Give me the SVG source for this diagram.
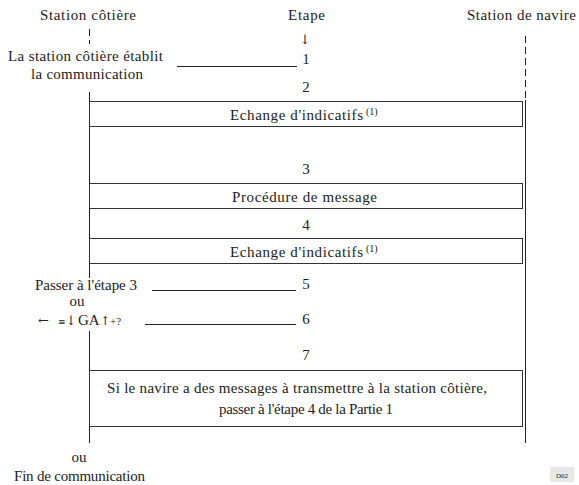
<svg xmlns="http://www.w3.org/2000/svg" width="579" height="485" viewBox="0 0 579 485">
<style>
text{font-family:'Liberation Serif','Times New Roman',serif;font-size:15px;fill:#222}
.m{text-anchor:middle}
.sup{font-size:10px}
.ar{font-family:'DejaVu Serif','DejaVu Sans',serif}
.ln{stroke:#222;stroke-width:1;fill:none}
.box{stroke:#333;stroke-width:1;fill:#fff}
.dash{stroke:#222;stroke-width:1;stroke-dasharray:7,4;fill:none}
</style>
<rect width="579" height="485" fill="#fff"/>
<g id="connectors">
<line class="dash" x1="89.5" y1="29" x2="89.5" y2="44"/>
<line class="ln" x1="89.5" y1="92" x2="89.5" y2="278"/>
<line class="ln" x1="89.5" y1="331" x2="89.5" y2="443"/>
<line class="dash" x1="525.5" y1="36" x2="525.5" y2="100"/>
<line class="ln" x1="525.5" y1="100" x2="525.5" y2="443"/>
<line class="ln" x1="177" y1="66.5" x2="297" y2="66.5"/>
<line class="ln" x1="152" y1="290.5" x2="296" y2="290.5"/>
<line class="ln" x1="145" y1="324.5" x2="296" y2="324.5"/>
</g>
<g id="headers">
<text x="40" y="20" textLength="96">Station côtière</text>
<text x="288" y="20" textLength="37">Etape</text>
<text x="467" y="20" textLength="109">Station de navire</text>
<text class="m ar" x="305" y="44" style="font-size:13px">↓</text>
</g>
<g id="step1">
<text x="8" y="61" textLength="155">La station côtière établit</text>
<text x="31" y="79" textLength="112">la communication</text>
<text class="m" x="306" y="64">1</text>
</g>
<g id="step2">
<text class="m" x="306" y="92">2</text>
<rect class="box" x="89.5" y="101.5" width="433" height="25"/>
<text x="230" y="120" textLength="133">Echange d'indicatifs</text>
<text class="sup" x="366" y="115">(1)</text>
</g>
<g id="step3">
<text class="m" x="306" y="174">3</text>
<rect class="box" x="89.5" y="183.5" width="433" height="25"/>
<text x="232" y="202" textLength="145">Procédure de message</text>
</g>
<g id="step4">
<text class="m" x="306" y="230">4</text>
<rect class="box" x="89.5" y="238.5" width="433" height="25"/>
<text x="230" y="257" textLength="133">Echange d'indicatifs</text>
<text class="sup" x="366" y="252">(1)</text>
</g>
<g id="step5">
<text x="35" y="290" textLength="102">Passer à l'étape 3</text>
<text class="m" x="306" y="289">5</text>
<text class="m" x="77" y="306">ou</text>
</g>
<g id="step6">
<text x="38" y="325"><tspan class="ar" style="font-size:13px">←</tspan><tspan x="58" class="ar" style="font-size:9px">≡</tspan><tspan class="ar" style="font-size:13px">↓</tspan><tspan x="78">GA</tspan><tspan x="100" class="ar" style="font-size:12px">↑</tspan><tspan style="font-size:11px">+?</tspan></text>
<text class="m" x="306" y="324">6</text>
</g>
<g id="step7">
<text class="m" x="306" y="360">7</text>
<rect class="box" x="89.5" y="370.5" width="433" height="56"/>
<text x="107" y="393" textLength="380">Si le navire a des messages à transmettre à la station côtière,</text>
<text x="219" y="414" textLength="174">passer à l'étape 4 de la Partie 1</text>
</g>
<g id="end">
<text class="m" x="79" y="462">ou</text>
<text x="14" y="481" textLength="131">Fin de communication</text>
</g>
<g id="label">
<rect x="550" y="467" width="24" height="15" fill="#e8e8e8"/>
<text class="m" x="562" y="478" style="font-size:7px">D02</text>
</g>
</svg>
